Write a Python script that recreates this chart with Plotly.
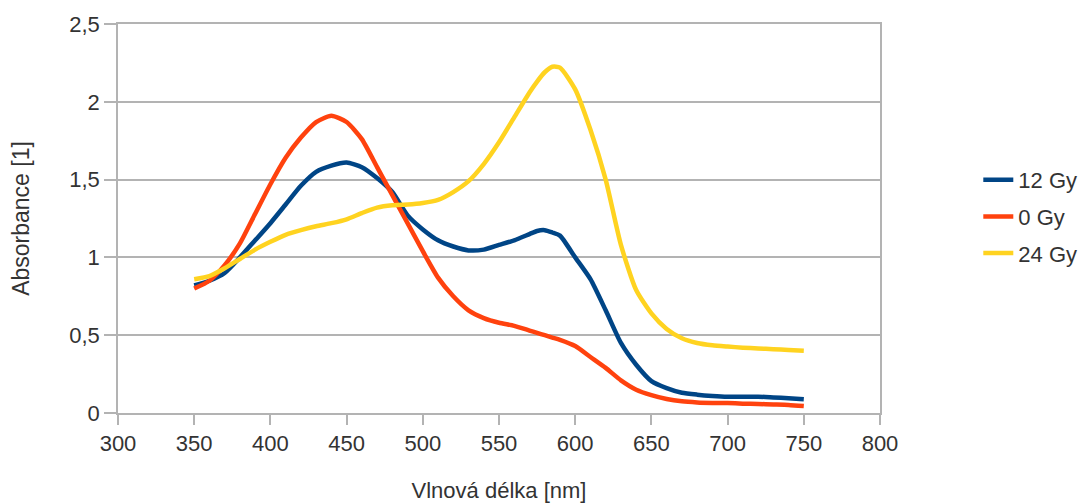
import plotly.graph_objects as go

wavelength = [350, 360, 370, 380, 390, 400, 410, 420, 430, 440, 450, 460, 470, 480, 490,
              500, 510, 520, 530, 540, 550, 560, 570, 575, 580, 585, 590, 600, 610, 620,
              630, 640, 650, 660, 670, 680, 690, 700, 710, 720, 730, 740, 750]

abs_12gy = [0.82, 0.85, 0.90, 1.00, 1.11, 1.22, 1.34, 1.46, 1.55, 1.59, 1.61, 1.58, 1.51, 1.42, 1.27,
            1.18, 1.11, 1.07, 1.045, 1.05, 1.08, 1.11, 1.15, 1.17, 1.175, 1.16, 1.14, 1.00, 0.86, 0.66,
            0.45, 0.31, 0.205, 0.16, 0.13, 0.118, 0.11, 0.105, 0.105, 0.105, 0.10, 0.095, 0.088]

abs_0gy = [0.80, 0.85, 0.95, 1.09, 1.28, 1.47, 1.64, 1.77, 1.87, 1.91, 1.87, 1.76, 1.58, 1.40, 1.22,
           1.04, 0.87, 0.75, 0.66, 0.61, 0.58, 0.56, 0.53, 0.515, 0.50, 0.485, 0.47, 0.43, 0.36, 0.29,
           0.21, 0.15, 0.115, 0.09, 0.075, 0.068, 0.065, 0.064, 0.06, 0.058, 0.055, 0.052, 0.045]

abs_24gy = [0.86, 0.88, 0.93, 0.99, 1.05, 1.10, 1.145, 1.175, 1.20, 1.22, 1.245, 1.285, 1.32, 1.335, 1.34,
            1.35, 1.37, 1.42, 1.49, 1.60, 1.74, 1.90, 2.06, 2.13, 2.19, 2.225, 2.22, 2.08, 1.82, 1.50,
            1.08, 0.79, 0.64, 0.54, 0.48, 0.45, 0.435, 0.427, 0.42, 0.415, 0.41, 0.405, 0.40]

series_names = ["12 Gy", "0 Gy", "24 Gy"]
series_values = [abs_12gy, abs_0gy, abs_24gy]
series_colors = ["#004586", "#ff420e", "#ffd320"]

x_ticks = [300, 350, 400, 450, 500, 550, 600, 650, 700, 750, 800]
y_ticks = [0, 0.5, 1, 1.5, 2, 2.5]

fig = go.Figure()
for name, vals, col in zip(series_names, series_values, series_colors):
    fig.add_trace(go.Scatter(
        x=wavelength, y=vals, name=name, mode="lines",
        line=dict(color=col, width=4.5, shape="spline", smoothing=0.6),
        legendgroup=name,
    ))

font_family = "Liberation Sans, Arial, sans-serif"
text_color = "#333333"
grid_color = "#b3b3b3"

# the page body adds an 8px offset, so the figure is 8px smaller on each side
fig.update_layout(
    width=1078, height=495,
    margin=dict(l=110, r=206, t=16, b=90, autoexpand=False),
    paper_bgcolor="white", plot_bgcolor="white",
    separators=", ",
    font=dict(family=font_family, size=22, color=text_color),
    showlegend=True,
    legend=dict(
        x=1.129, xanchor="left", y=0.505, yanchor="middle",
        font=dict(size=22, color=text_color),
        tracegroupgap=5, traceorder="grouped",
        bgcolor="rgba(0,0,0,0)",
    ),
    xaxis=dict(
        range=[300, 800], tickvals=x_ticks, showgrid=False, zeroline=False,
        automargin=False,
        ticks="outside", ticklen=10, tickwidth=1.5, tickcolor=grid_color,
        showline=True, linecolor=grid_color, linewidth=1.5, mirror=True,
        tickfont=dict(size=22, color=text_color),
        title=dict(text="Vlnová délka [nm]", font=dict(size=22, color=text_color), standoff=29),
    ),
    yaxis=dict(
        range=[0, 2.5], tickvals=y_ticks, showgrid=True, gridcolor=grid_color, gridwidth=1.5,
        automargin=False,
        zeroline=False, ticks="outside", ticklen=12, tickwidth=1.5, tickcolor=grid_color,
        showline=True, linecolor=grid_color, linewidth=1.5, mirror=True,
        tickfont=dict(size=22, color=text_color),
        title=dict(text="Absorbance [1]", font=dict(size=23, color=text_color), standoff=35),
    ),
)

fig.write_html("out.html")
